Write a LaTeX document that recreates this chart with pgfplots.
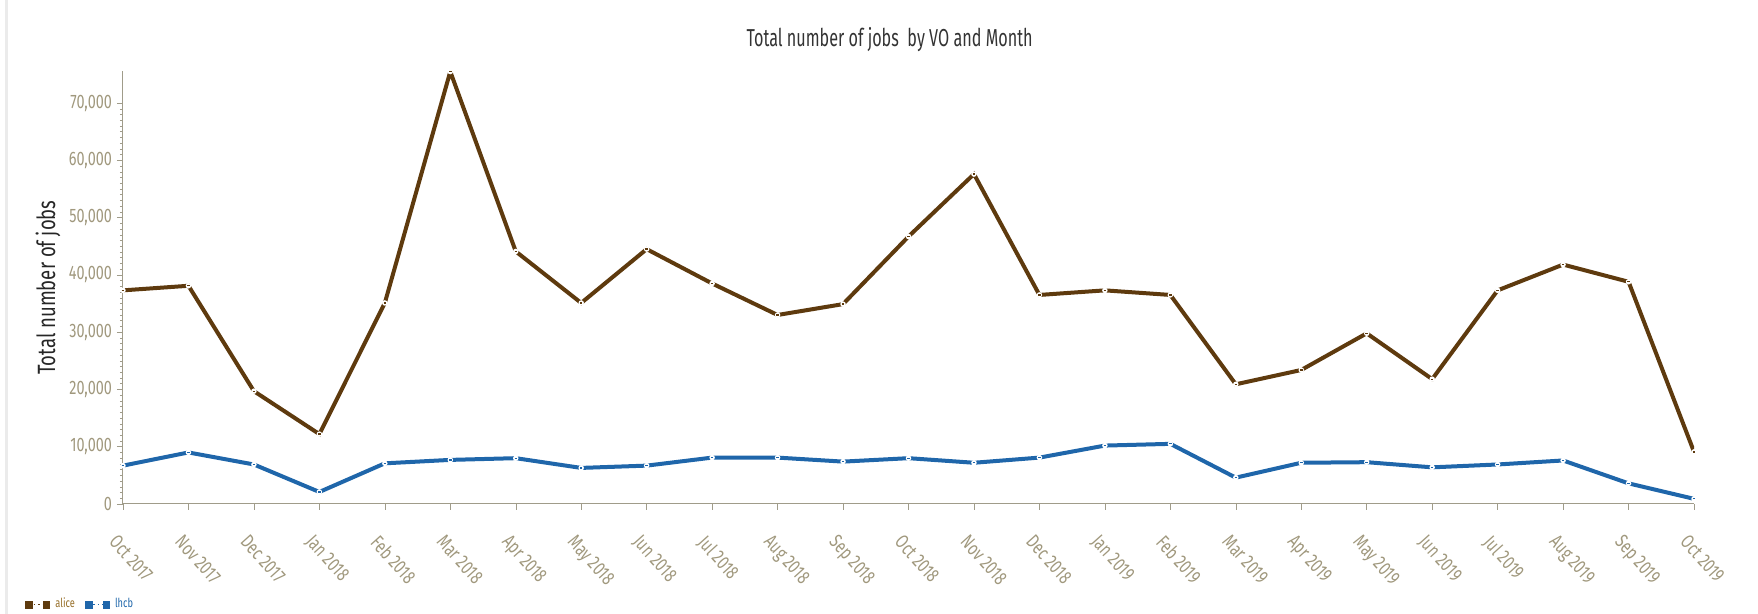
\documentclass[border=0pt]{standalone}
\usepackage{fontspec}
\setmainfont{Fira Sans}[FakeStretch=0.74]
\newfontfamily\titlefont{Fira Sans}[FakeStretch=0.66]
\usepackage{pgfplots}
\pgfplotsset{compat=1.18}
\definecolor{alicebrown}{RGB}{94,58,14}
\definecolor{lhcbblue}{RGB}{31,102,170}
\definecolor{ticktan}{RGB}{160,152,125}
\definecolor{axisgray}{RGB}{160,156,138}
\definecolor{alicetext}{RGB}{150,110,40}
\pgfdeclareplotmark{gapdot}{%
  \pgfpathcircle{\pgfpointorigin}{1.1pt}%
  \pgfsetfillcolor{white}\pgfusepathqfill
  \pgfsetlinewidth{0.5pt}%
  \pgfpathmoveto{\pgfpoint{-0.5pt}{0pt}}\pgfpathlineto{\pgfpoint{0.5pt}{0pt}}%
  \pgfusepathqstroke}
\begin{document}
\begin{tikzpicture}
\useasboundingbox (-49.2pt,-44pt) rectangle (654pt,201.6pt);
\draw[black!8, line width=1.2pt] (-46.4pt,-44pt) -- (-46.4pt,201.6pt);
\begin{axis}[
  scale only axis,
  width=628.4pt, height=173.2pt,
  xmin=0, xmax=24, ymin=0, ymax=75600,
  axis x line*=bottom, axis y line*=left,
  axis line style={axisgray, -},
  tick style={axisgray},
  tick align=outside,
  major tick length=2.4pt, minor tick length=1.2pt,
  xtick={0,...,24},
  xticklabels={Oct 2017,Nov 2017,Dec 2017,Jan 2018,Feb 2018,Mar 2018,Apr 2018,May 2018,Jun 2018,Jul 2018,Aug 2018,Sep 2018,Oct 2018,Nov 2018,Dec 2018,Jan 2019,Feb 2019,Mar 2019,Apr 2019,May 2019,Jun 2019,Jul 2019,Aug 2019,Sep 2019,Oct 2019},
  x tick label style={xshift=-1.5pt, yshift=-4.5pt, rotate=-48, anchor=north west, font=\fontsize{7.8}{8}\selectfont, color=ticktan},
  ytick={0,10000,20000,30000,40000,50000,60000,70000},
  minor y tick num=9,
  scaled y ticks=false,
  y tick label style={font=\fontsize{7.8}{8}\selectfont, color=ticktan, xshift=1.5pt, /pgf/number format/.cd, fixed, 1000 sep={,}, assume math mode=true},
  ylabel={Total number of jobs},
  every axis y label/.style={at={(axis description cs:-0.0477,0.5)}, rotate=90, anchor=center, font=\fontsize{10}{11}\selectfont, color=black!85},
  title={\titlefont Total number of jobs\ \ by VO and Month},
  title style={at={(axis description cs:0.488,1.0716)}, anchor=center, yshift=-6pt, font=\fontsize{9.8}{11}\selectfont, color=black!80},
  legend style={at={(axis description cs:-0.0624,-0.233)}, anchor=west, draw=none, fill=none, font=\fontsize{5}{5.5}\selectfont, inner sep=0pt},
  legend columns=2,
  legend cell align=left,
  /tikz/every even column/.append style={column sep=2pt},
  legend image code/.code={%
    \draw[#1, line width=0.4pt, dash pattern=on 0.6pt off 1.2pt] (0pt,0pt) -- (7pt,0pt);
    \fill[#1] (-0.7pt,-0.7pt) rectangle (0.7pt,0.7pt);
    \fill[#1] (6.3pt,-0.7pt) rectangle (7.7pt,0.7pt);},
]
\addplot[color=alicebrown, line width=1.6pt, mark=gapdot] coordinates {
(0,37300) (1,38100) (2,19700) (3,12200) (4,35100) (5,75500) (6,44100) (7,35100)
(8,44500) (9,38500) (10,33000) (11,34900) (12,46700) (13,57600) (14,36500)
(15,37300) (16,36500) (17,20900) (18,23400) (19,29800) (20,21800) (21,37300)
(22,41800) (23,38800) (24,9100)};
\addlegendentry{\textcolor{alicetext}{alice}}
\addplot[color=lhcbblue, line width=1.6pt, mark=gapdot] coordinates {
(0,6700) (1,9000) (2,6900) (3,2100) (4,7100) (5,7700) (6,8000) (7,6300)
(8,6700) (9,8100) (10,8100) (11,7400) (12,8000) (13,7200) (14,8100)
(15,10200) (16,10500) (17,4600) (18,7200) (19,7300) (20,6400) (21,6900)
(22,7600) (23,3600) (24,900)};
\addlegendentry{\textcolor{lhcbblue}{lhcb}}
\end{axis}
\end{tikzpicture}
\end{document}
